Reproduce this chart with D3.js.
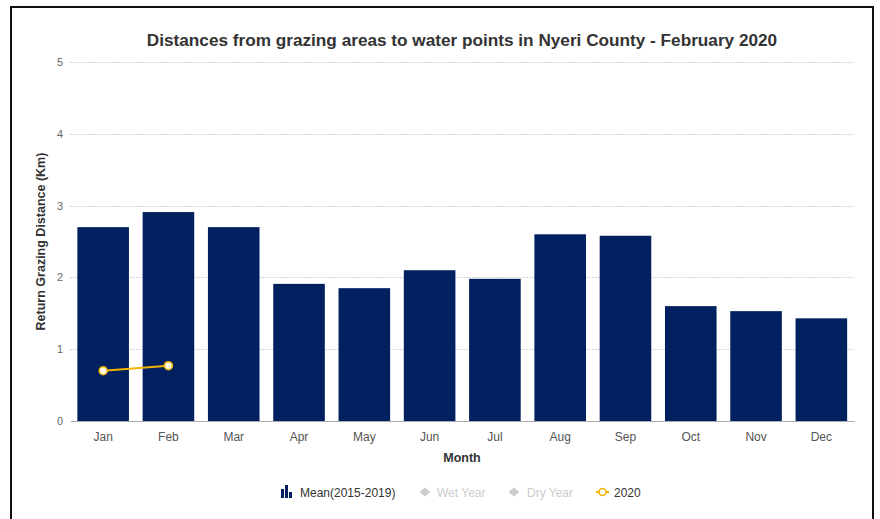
<!DOCTYPE html>
<html>
<head>
<meta charset="utf-8">
<script src="https://cdn.jsdelivr.net/npm/d3@7"></script>
<style>
  html, body { margin: 0; padding: 0; background: #fff; }
  svg { display: block; font-family: "Liberation Sans", Arial, Helvetica, sans-serif; }
</style>
</head>
<body>
<svg id="chart" width="880" height="519"></svg>
<script>
// Monthly return grazing distance (km), Nyeri County
const months = ["Jan", "Feb", "Mar", "Apr", "May", "Jun", "Jul", "Aug", "Sep", "Oct", "Nov", "Dec"];
const meanValues = [2.70, 2.91, 2.70, 1.91, 1.85, 2.10, 1.98, 2.60, 2.58, 1.60, 1.53, 1.43];
const months2020 = ["Jan", "Feb"];
const values2020 = [0.70, 0.77];
const yTicks = [0, 1, 2, 3, 4, 5];
const legendItems = ["Mean(2015-2019)", "Wet Year", "Dry Year", "2020"];

const svg = d3.select("#chart");
const W = 880, H = 519;
const margin = { left: 70.5, right: 26, top: 62, bottom: 98 };

// Frame
svg.append("path")
  .attr("d", `M11,${H} L11,7 L873,7 L873,${H}`)
  .attr("fill", "none").attr("stroke", "#111").attr("stroke-width", 2);

const x = d3.scaleBand()
  .domain(months)
  .range([margin.left, W - margin.right])
  .paddingInner(0.21).paddingOuter(0.105);

const y = d3.scaleLinear()
  .domain([0, 5])
  .range([H - margin.bottom, margin.top]);

// Gridlines
svg.append("g")
  .selectAll("line")
  .data(yTicks.filter(d => d > 0))
  .join("line")
  .attr("x1", margin.left).attr("x2", W - margin.right)
  .attr("y1", d => Math.round(y(d)) + 0.5).attr("y2", d => Math.round(y(d)) + 0.5)
  .attr("stroke", "#aaa").attr("stroke-dasharray", "1,2");

// Y axis labels
svg.append("g")
  .selectAll("text")
  .data(yTicks)
  .join("text")
  .attr("x", 63).attr("y", d => y(d) + 4)
  .attr("text-anchor", "end")
  .attr("font-size", 11).attr("fill", "#666")
  .text(d => d);

// Bars
svg.append("g")
  .selectAll("rect")
  .data(months.map((m, i) => ({ m, v: meanValues[i] })))
  .join("rect")
  .attr("x", d => x(d.m)).attr("width", x.bandwidth())
  .attr("y", d => y(d.v)).attr("height", d => y(0) - y(d.v))
  .attr("fill", "#002060");

// X axis
const xAxis = d3.axisBottom(x).tickSize(0).tickPadding(11);
const gx = svg.append("g")
  .attr("transform", `translate(0,${y(0)})`)
  .call(xAxis);
gx.select(".domain").attr("stroke", "#aaa");
gx.selectAll("text").attr("font-size", 12).attr("fill", "#555")
  .attr("font-family", "Liberation Sans, Arial, sans-serif");

// 2020 line
const pts = months2020.map((m, i) => ({ m, v: values2020[i] }));
const line = d3.line().x(d => x(d.m) + x.bandwidth() / 2).y(d => y(d.v));
svg.append("path").datum(pts)
  .attr("d", line).attr("fill", "none")
  .attr("stroke", "#f2b400").attr("stroke-width", 2);
svg.append("g").selectAll("circle").data(pts).join("circle")
  .attr("cx", d => x(d.m) + x.bandwidth() / 2).attr("cy", d => y(d.v))
  .attr("r", 4).attr("fill", "#fffbe6").attr("stroke", "#f2b400").attr("stroke-width", 1.5);

// Title
svg.append("text")
  .attr("x", 462).attr("y", 46)
  .attr("text-anchor", "middle")
  .attr("font-size", 17.2).attr("font-weight", "bold").attr("fill", "#333")
  .text("Distances from grazing areas to water points in Nyeri County - February 2020");

// Axis titles
svg.append("text")
  .attr("transform", `translate(45,${(y(0) + y(5)) / 2}) rotate(-90)`)
  .attr("text-anchor", "middle")
  .attr("font-size", 12.5).attr("font-weight", "bold").attr("fill", "#333")
  .text("Return Grazing Distance (Km)");
svg.append("text")
  .attr("x", 462).attr("y", 462)
  .attr("text-anchor", "middle")
  .attr("font-size", 12.5).attr("font-weight", "bold").attr("fill", "#333")
  .text("Month");

// Legend
const lg = svg.append("g").attr("font-size", 12);
const ly = 492;
// bar icon
const barIcon = lg.append("g").attr("transform", `translate(281,${ly})`);
[[0, 9], [4, 13], [8, 6]].forEach(([dx, h]) => {
  barIcon.append("rect").attr("x", dx).attr("y", 6 - h).attr("width", 3).attr("height", h).attr("fill", "#002060");
});
lg.append("text").attr("x", 300).attr("y", ly + 4.5).attr("fill", "#333").text(legendItems[0]);
// diamonds
[[425, 437, legendItems[1]], [514, 527, legendItems[2]]].forEach(([cx, tx, label]) => {
  lg.append("path").attr("d", `M${cx},${ly - 4.5} L${cx + 5.5},${ly} L${cx},${ly + 4.5} L${cx - 5.5},${ly} Z`)
    .attr("fill", "#ccc");
  lg.append("text").attr("x", tx).attr("y", ly + 4.5).attr("fill", "#ccc").text(label);
});
// 2020 marker
lg.append("line").attr("x1", 596).attr("x2", 609).attr("y1", ly).attr("y2", ly)
  .attr("stroke", "#f2b400").attr("stroke-width", 2);
lg.append("circle").attr("cx", 602.5).attr("cy", ly).attr("r", 3.5)
  .attr("fill", "#fff").attr("stroke", "#f2b400").attr("stroke-width", 1.5);
lg.append("text").attr("x", 614).attr("y", ly + 4.5).attr("fill", "#333").text(legendItems[3]);
</script>
</body>
</html>
